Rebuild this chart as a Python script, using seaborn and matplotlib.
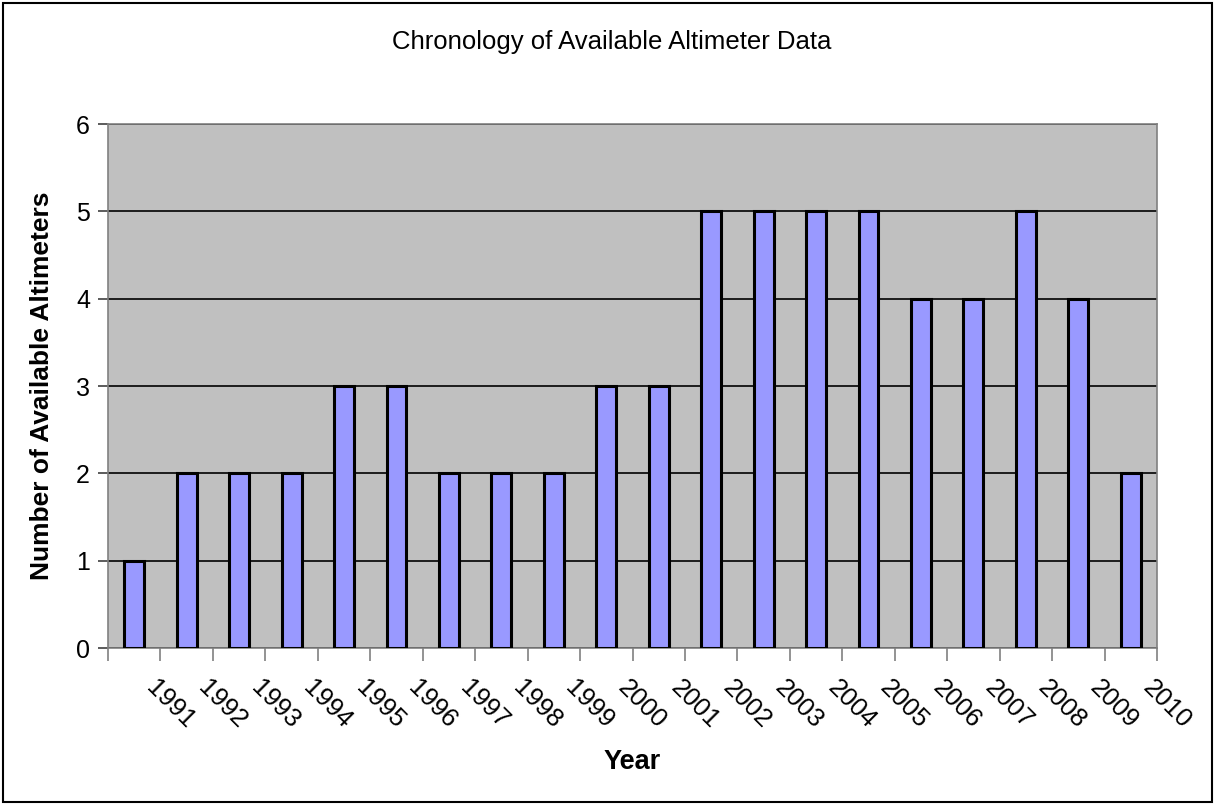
import matplotlib
matplotlib.use("Agg")
import matplotlib.pyplot as plt
import matplotlib.transforms as mtransforms
import seaborn as sns
import pandas as pd
from matplotlib.patches import Rectangle

years = ["1991", "1992", "1993", "1994", "1995", "1996", "1997", "1998", "1999", "2000",
         "2001", "2002", "2003", "2004", "2005", "2006", "2007", "2008", "2009", "2010"]
altimeters = [1, 2, 2, 2, 3, 3, 2, 2, 2, 3, 3, 5, 5, 5, 5, 4, 4, 5, 4, 2]
y_ticks = [0, 1, 2, 3, 4, 5, 6]

sns.set_style("white")
plt.rcParams["font.family"] = ["Liberation Sans", "DejaVu Sans"]
plt.rcParams["text.color"] = "black"
plt.rcParams["axes.labelcolor"] = "black"
plt.rcParams["xtick.color"] = "black"
plt.rcParams["ytick.color"] = "black"

df = pd.DataFrame({"Year": years, "Count": altimeters})

fig = plt.figure(figsize=(12.15, 8.05), dpi=100)
ax = fig.add_axes([108 / 1215, 1 - 648 / 805, (1157 - 108) / 1215, (648 - 124) / 805])
ax.set_facecolor("#C0C0C0")

sns.barplot(data=df, x="Year", y="Count", ax=ax, width=0.38, color="#9999FF",
            edgecolor="black", linewidth=2.2, saturation=1, zorder=3)

ax.set_xlim(-0.5, len(years) - 0.5)
ax.set_ylim(0, 6)
ax.set_yticks(y_ticks)
ax.yaxis.grid(True, color="black", linewidth=1.2, zorder=1)
ax.set_axisbelow(True)

# category boundary ticks on the x axis
ax.set_xticks([i - 0.5 for i in range(len(years) + 1)], minor=True)
ax.tick_params(axis="x", which="minor", bottom=True, direction="out", length=9, width=1.2,
               color="#808080")
ax.tick_params(axis="x", which="major", bottom=True, length=0, pad=20, labelsize=18.5,
               labelcolor="black")
ax.tick_params(axis="y", left=True, direction="out", length=7, width=1.2, color="#404040",
               labelsize=18, pad=6, labelcolor="black")

offset = mtransforms.ScaledTranslation(24 / 100, 0, fig.dpi_scale_trans)
for lbl in ax.get_xticklabels():
    lbl.set_rotation(-45)
    lbl.set_ha("left")
    lbl.set_va("top")
    lbl.set_rotation_mode("anchor")
    lbl.set_transform(lbl.get_transform() + offset)

for side in ["left", "bottom", "top", "right"]:
    ax.spines[side].set_visible(True)
    ax.spines[side].set_color("#808080")
    ax.spines[side].set_linewidth(1.2)

ax.set_xlabel("Year", fontsize=19.5, fontweight="bold")
ax.set_ylabel("Number of Available Altimeters", fontsize=19, fontweight="bold")
ax.xaxis.set_label_coords(0.5, (648 - 762) / (648 - 124), transform=ax.transAxes)
ax.xaxis.label.set_va("center")
ax.yaxis.set_label_coords((42 - 108) / (1157 - 108), 0.5, transform=ax.transAxes)
ax.yaxis.label.set_va("center")

fig.text(612 / 1215, 1 - 42 / 805, "Chronology of Available Altimeter Data",
         ha="center", va="center", fontsize=18.5)

fig.patches.append(Rectangle((3 / 1215, 3 / 805), 1209 / 1215, 799 / 805, transform=fig.transFigure,
                             fill=False, edgecolor="black", linewidth=1.5))

fig.savefig("out.png", dpi=100)
